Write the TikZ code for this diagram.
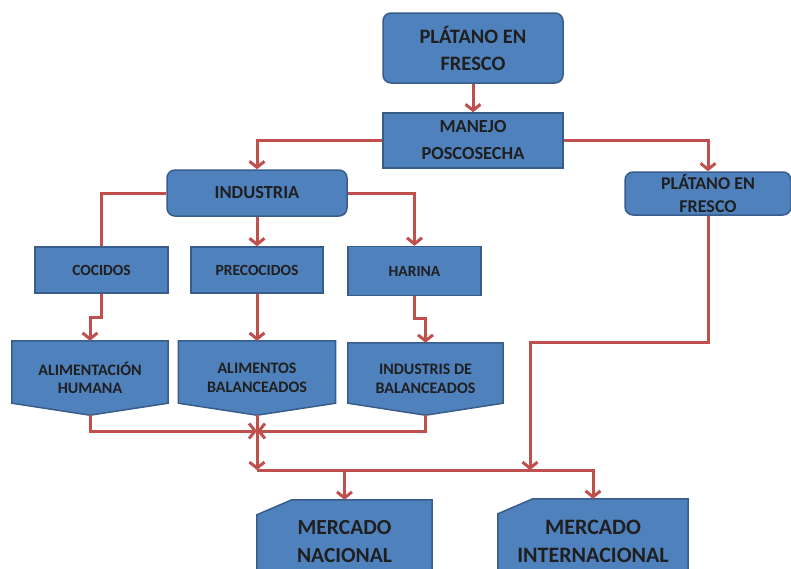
\documentclass[tikz,border=0pt]{standalone}
\usepackage{fontspec}
\setmainfont{Carlito}
\usetikzlibrary{arrows.meta,backgrounds}
\definecolor{boxblue}{HTML}{4F81BD}
\definecolor{boxline}{HTML}{385D8A}
\definecolor{linkred}{HTML}{C0504D}
\tikzset{
	label text/.style={text=black!88, align=center, inner sep=0pt},
	fs/.style 2 args={font=\fontsize{#1}{#2}\selectfont\bfseries},
	paint/.style={fill=boxblue, draw=boxline, line width=1.5pt},
	plainbox/.style={label text, paint},
	roundbox/.style={plainbox, rounded corners=8pt},
	link/.style={draw=linkred, line width=3pt, -{Straight Barb[length=6pt,width=15pt]}}
}

\begin{document}
\begin{tikzpicture}[x=1pt, y=-1pt]
	\path[use as bounding box, clip] (0,0) rectangle (791,568);

	% Top of the chain
	\node[roundbox, fs={20.5}{27}, minimum width=180pt, minimum height=70pt] (fresco) at (473,48) {PLÁTANO EN\\FRESCO};
	\node[plainbox, fs={18.4}{27}, minimum width=180pt, minimum height=55pt] (manejo) at (473,140.5) {MANEJO\\POSCOSECHA};
	\node[roundbox, fs={18.4}{25}, minimum width=180pt, minimum height=46pt] (ind) at (257,193) {INDUSTRIA};
	\node[roundbox, fs={18}{23}, minimum width=166pt, minimum height=43pt] (frescoR) at (708,193.5) {PLÁTANO EN\\FRESCO};

	% Products of the industry
	\node[plainbox, fs={15.5}{19}, minimum width=133pt, minimum height=46pt] (cocidos) at (101.5,270) {COCIDOS};
	\node[plainbox, fs={15.5}{19}, minimum width=132pt, minimum height=46pt] (precoc) at (257,270) {PRECOCIDOS};
	\node[plainbox, fs={15.5}{19}, minimum width=133pt, minimum height=49pt] (harina) at (414.5,271) {HARINA};

	% Uses (flag shapes drawn behind)
	\node[label text, fs={16}{18.5}, minimum width=156pt, minimum height=74pt] (humana) at (90,378) {ALIMENTACIÓN\\HUMANA};
	\node[label text, fs={16}{18.5}, minimum width=157pt, minimum height=74pt] (alimbal) at (257,378) {ALIMENTOS\\BALANCEADOS};
	\node[label text, fs={16}{18.5}, minimum width=155pt, minimum height=72pt] (indbal) at (425.5,379) {INDUSTRIS DE\\BALANCEADOS};

	% Markets (cut corner cards drawn behind)
	\node[label text, fs={21.5}{28}, minimum width=175pt, minimum height=84pt] (nacional) at (344.5,542) {MERCADO\\NACIONAL};
	\node[label text, fs={22}{28}, minimum width=190pt, minimum height=84pt] (internac) at (593,541) {MERCADO\\INTERNACIONAL};

	\begin{scope}[on background layer]
		\foreach \n in {humana,alimbal,indbal}
			\filldraw[paint] (\n.north west) -- (\n.north east) -- ([yshift=12pt]\n.south east)
				-- (\n.south) -- ([yshift=12pt]\n.south west) -- cycle;
		\foreach \n in {nacional,internac}
			\filldraw[paint] ([yshift=-15pt]\n.north west) -- ([xshift=35pt]\n.north west)
				-- (\n.north east) -- (\n.south east) -- (\n.south west) -- cycle;
	\end{scope}

	% Joints of the lines
	\coordinate (cruce) at (257,431);
	\coordinate (union) at (257,470);
	\coordinate (bajada) at (530,342);

	% Connectors
	\draw[link] (fresco) -- (manejo);
	\draw[link] (manejo.west) -| (ind.north);
	\draw[link] (manejo.east) -| (frescoR.north);
	\draw[link, -] (ind.west) -| (cocidos.north);
	\draw[link] (ind) -- (precoc);
	\draw[link] (ind.east) -| (harina.north);
	\draw[link] (cocidos.south) -- ++(0,24) -| (humana.north);
	\draw[link] (precoc) -- (alimbal.north);
	\draw[link] (harina.south) -- ++(0,22) -| (indbal.north);
	\draw[link] (humana.south) |- (cruce);
	\draw[link] (indbal.south) |- (cruce);
	\draw[link] (alimbal.south) -- (union);
	\draw[link] (frescoR.south) |- (bajada) -- (bajada |- union);
	\draw[link] (union) -| (internac.north);
	\draw[link] (nacional.north |- union) -- (nacional.north);
\end{tikzpicture}
\end{document}
